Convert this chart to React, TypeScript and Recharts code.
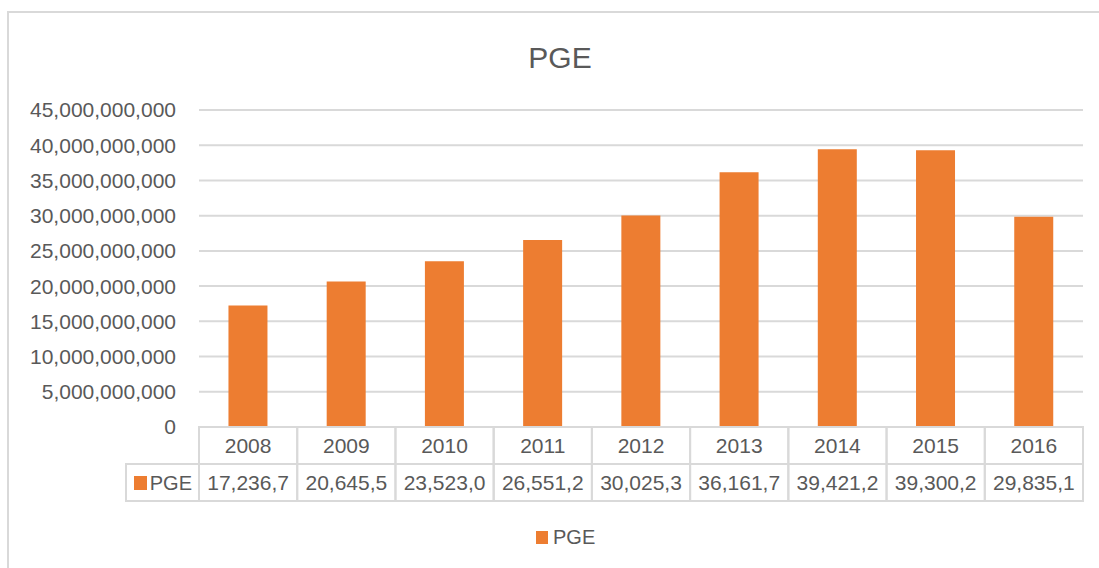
import { BarChart, Bar, XAxis, YAxis, CartesianGrid, Legend } from 'recharts'

const years = ['2008', '2009', '2010', '2011', '2012', '2013', '2014', '2015', '2016']
const pgeValues = [
  17236700000, 20645500000, 23523000000, 26551200000, 30025300000,
  36161700000, 39421200000, 39300200000, 29835100000,
]
const yTicks = [0, 5e9, 10e9, 15e9, 20e9, 25e9, 30e9, 35e9, 40e9, 45e9]

const SERIES_NAME = 'PGE'
const BAR_COLOR = '#ED7D31'
const TEXT = '#595959'
const LINE = '#d9d9d9'
const FONT = '"Liberation Sans", Arial, sans-serif'

const data = years.map((year, i) => ({ year, PGE: pgeValues[i] }))

// Excel's data table cuts the number to the cell width
function tableValue(v: number): string {
  return v.toLocaleString('en-US').slice(0, 8)
}

// draws both rows of the data table for one category
function TableTick(props: any) {
  const { x, y, payload, index, width } = props
  const bw = width / years.length
  const left = x - bw / 2
  const rowH = 37
  const v = pgeValues[index]
  return (
    <g>
      <rect x={left} y={y} width={bw} height={rowH} fill="none" stroke={LINE} strokeWidth={2} />
      <rect x={left} y={y + rowH} width={bw} height={rowH} fill="none" stroke={LINE} strokeWidth={2} />
      <text x={x} y={y + 26} textAnchor="middle" fill={TEXT} fontSize={21} fontFamily={FONT}>
        {payload.value}
      </text>
      <text x={x} y={y + rowH + 26} textAnchor="middle" fill={TEXT} fontSize={21} fontFamily={FONT}>
        {tableValue(v)}
      </text>
      {index === 0 && (
        <g>
          <rect x={left - 73} y={y + rowH} width={73} height={rowH} fill="none" stroke={LINE} strokeWidth={2} />
          <rect x={left - 65} y={y + rowH + 12} width={13} height={14} fill={BAR_COLOR} />
          <text x={left - 7} y={y + rowH + 26} textAnchor="end" fill={TEXT} fontSize={20} fontFamily={FONT}>
            {SERIES_NAME}
          </text>
        </g>
      )}
    </g>
  )
}

function LegendBox() {
  return (
    <div style={{ display: 'flex', alignItems: 'center', height: 30, fontFamily: FONT, fontSize: 20, color: TEXT }}>
      <span style={{ width: 12, height: 13, background: BAR_COLOR, display: 'inline-block', marginRight: 5 }} />
      <span>{SERIES_NAME}</span>
    </div>
  )
}

export default function App() {
  return (
    <div style={{ position: 'fixed', left: 0, top: 0, width: 1099, height: 568, overflow: 'hidden', background: '#fff' }}>
      <div
        style={{
          position: 'absolute', left: 7, top: 11, width: 1200, height: 700,
          border: `2px solid ${LINE}`,
        }}
      />
      <div
        style={{
          position: 'absolute', left: 0, width: 1120, top: 41, textAlign: 'center',
          fontFamily: FONT, fontSize: 30, color: TEXT,
        }}
      >
        {SERIES_NAME}
      </div>
      <div style={{ position: 'absolute', left: 0, top: 0 }}>
        <BarChart
          width={1099}
          height={568}
          data={data}
          margin={{ top: 110, right: 16, left: 0, bottom: 30 }}
          barCategoryGap="30%"
        >
          <CartesianGrid vertical={false} stroke={LINE} strokeWidth={2} />
          <XAxis
            dataKey="year"
            height={81}
            axisLine={false}
            tickLine={false}
            tickSize={0}
            tickMargin={0}
            interval={0}
            tick={<TableTick />}
          />
          <YAxis
            width={199}
            domain={[0, 45e9]}
            ticks={yTicks}
            axisLine={false}
            tickLine={false}
            tickSize={0}
            tickMargin={23}
            tickFormatter={(v: number) => v.toLocaleString('en-US')}
            tick={{ fill: TEXT, fontSize: 21, fontFamily: FONT }}
          />
          <Legend
            verticalAlign="bottom"
            content={<LegendBox />}
            wrapperStyle={{ left: 536, top: 522, width: 100, height: 30 }}
          />
          <Bar dataKey="PGE" name={SERIES_NAME} fill={BAR_COLOR} isAnimationActive={false} />
        </BarChart>
      </div>
    </div>
  )
}
